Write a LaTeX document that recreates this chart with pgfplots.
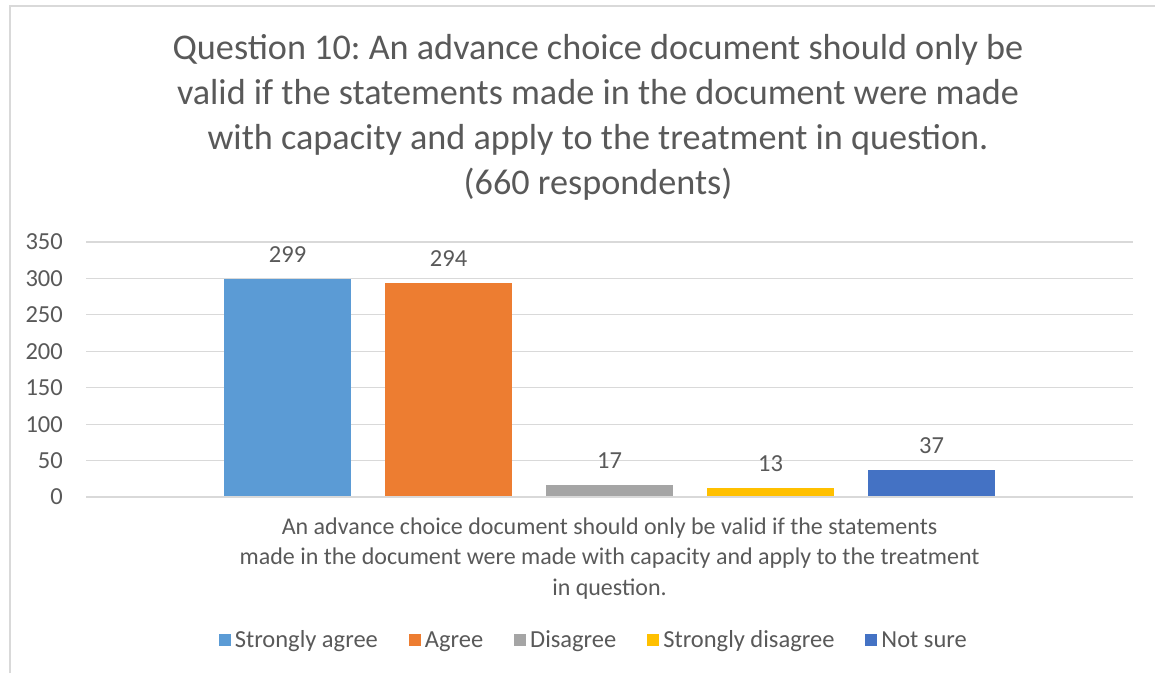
\documentclass[border=0pt]{standalone}
\usepackage{pgfplots}
\pgfplotsset{compat=1.18}
\usepackage{fontspec}
\setmainfont{Carlito}
\frenchspacing
\definecolor{txt}{HTML}{595959}
\definecolor{gridc}{HTML}{D9D9D9}
\definecolor{c1}{HTML}{5B9BD5}
\definecolor{c2}{HTML}{ED7D31}
\definecolor{c3}{HTML}{A5A5A5}
\definecolor{c4}{HTML}{FFC000}
\definecolor{c5}{HTML}{4472C4}
\begin{document}
\begin{tikzpicture}[x=1pt,y=1pt]
\path[use as bounding box] (0,0) rectangle (1155,673);
\draw[gridc,line width=1.5pt] (10,0) -- (10,667) -- (1155,667);
\node[txt,align=center,font=\fontsize{36.2}{45}\selectfont] at (598,555.5)
  {Question 10: An advance choice document should only be\\
   valid if the statements made in the document were made\\
   with capacity and apply to the treatment in question.\\
   (660 respondents)};
\begin{axis}[
  at={(86pt,176pt)}, anchor=south west,
  width=1047pt, height=255pt, scale only axis,
  ybar=34pt, bar width=127pt,
  xmin=-523.5, xmax=523.5,
  ymin=0, ymax=350, ytick={0,50,...,350},
  xtick={0},
  xticklabels={An advance choice document should only be valid if the statements\\made in the document were made with capacity and apply to the treatment\\in question.},
  xticklabel style={align=center,font=\fontsize{24}{30.5}\selectfont,text=txt,yshift=-17pt},
  yticklabel style={font=\fontsize{24.5}{28}\selectfont,text=txt,inner sep=0pt,xshift=-23pt},
  /pgf/number format/assume math mode=true,
  major tick length=0pt,
  ymajorgrids, grid style={gridc,line width=1.2pt},
  axis lines*=left, axis line style={draw=none},
  ytick style={draw=none}, xtick style={draw=none},
  nodes near coords,
  every node near coord/.append style={font=\fontsize{24.5}{28}\selectfont,text=txt,inner sep=0pt,anchor=south,yshift=16pt},
  legend columns=5,
  legend style={at={(0.485,-0.561)},anchor=center,draw=none,
    font=\fontsize{24.5}{28}\selectfont,text=txt,
    /tikz/every odd column/.append style={column sep=2pt},
    /tikz/every even column/.append style={column sep=29pt}},
  legend image code/.code={\fill[#1] (0pt,-6pt) rectangle (12pt,6pt);},
  clip=false,
]
\addplot[fill=c1,draw=none] coordinates {(0,299)};
\addplot[fill=c2,draw=none] coordinates {(0,294)};
\addplot[fill=c3,draw=none] coordinates {(0,17)};
\addplot[fill=c4,draw=none] coordinates {(0,13)};
\addplot[fill=c5,draw=none] coordinates {(0,37)};
\draw[gridc,line width=1.2pt] (axis cs:-523.5,0) -- (axis cs:523.5,0);
\legend{Strongly agree,Agree,Disagree,Strongly disagree,Not sure}
\end{axis}
\end{tikzpicture}
\end{document}
